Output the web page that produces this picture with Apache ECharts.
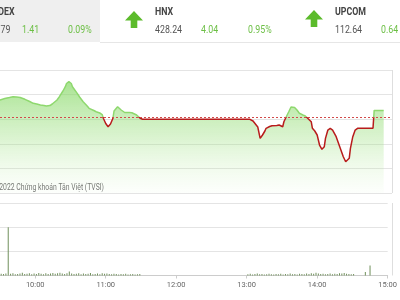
<!DOCTYPE html>
<html><head><meta charset="utf-8">
<script src="https://cdn.jsdelivr.net/npm/echarts@6/dist/echarts.min.js"></script>
<style>html,body{margin:0;padding:0;background:#fff;overflow:hidden}#c{width:400px;height:300px}</style>
</head><body><div id="c"></div>
<script>
// ---- data ----
const xTickLabels = ['10:00','11:00','12:00','13:00','14:00','15:00'];
const xStart = '9:30';
const refPrice = 1570.38;
const priceData = [
['9:15',1573.1],['9:20',1573.5],['9:25',1573.8],['9:30',1573.9],['9:34',1574.21],['9:38',1574.4],
['9:41',1574.57],['9:44',1574.5],['9:47',1574.41],['9:51',1574.04],['9:55',1573.6],['9:58',1573.23],
['10:01',1573.09],['10:04',1572.88],['10:07',1572.78],['10:09',1572.68],['10:12',1572.78],['10:14',1573.09],
['10:18',1573.9],['10:20',1574.57],['10:23',1575.73],['10:25',1576.6],['10:26',1577.26],['10:28',1577.62],
['10:30',1577.26],['10:31',1576.6],['10:35',1575.26],['10:37',1574.51],['10:40',1573.56],['10:43',1572.78],
['10:45',1572.21],['10:49',1571.76],['10:51',1571.52],['10:54',1571.26],['10:56',1570.95],['10:57',1570.2],
['10:59',1569.12],['11:01',1568.47],['11:03',1569.02],['11:05',1570.14],['11:06',1571.66],['11:09',1572.54],
['11:10',1572.27],['11:12',1571.87],['11:15',1571.36],['11:16',1571.2],['11:19',1571.36],['11:21',1571.32],
['11:25',1570.85],['11:28',1570.18],['11:29',1570.0],['11:30',1570.0],
['13:00',1570.0],['13:03',1569.63],['13:05',1569.02],['13:07',1568.41],['13:09',1566.11],['13:11',1566.79],
['13:13',1567.6],['13:14',1568.15],['13:17',1568.51],['13:19',1568.68],['13:23',1568.72],['13:25',1568.82],
['13:26',1569.16],['13:28',1568.47],['13:29',1569.49],['13:31',1570.5],['13:33',1571.46],['13:35',1572.48],
['13:36',1572.88],['13:38',1572.38],['13:40',1571.87],['13:42',1571.2],['13:45',1570.85],['13:47',1570.65],
['13:49',1570.18],['13:52',1569.49],['13:53',1568.15],['13:55',1567.6],['13:57',1566.79],['13:59',1564.75],
['14:01',1563.88],['14:03',1564.41],['14:04',1566.11],['14:06',1567.8],['14:08',1568.15],['14:10',1567.8],
['14:13',1566.44],['14:16',1564.41],['14:19',1562.37],['14:21',1561.36],['14:22',1561.03],['14:24',1562.05],
['14:25',1564.08],['14:27',1566.44],['14:29',1567.8],['14:31',1568.15],['14:44',1568.15],['14:45',1571.79],
['14:53',1571.79]
];
const volumeData = [
['9:31',0.7],['9:33',0.6],['9:35',0.8],['9:37',20],['9:39',0.7],['9:41',0.9],['9:43',0.5],['9:45',0.6],
['9:47',0.8],['9:49',1.1],['9:51',0.6],['9:53',0.7],['9:55',0.9],['9:57',0.5],['9:59',0.8],['10:01',0.6],
['10:03',1.0],['10:05',0.7],['10:07',0.5],['10:09',0.9],['10:11',0.6],['10:13',0.8],['10:15',1.0],['10:17',0.7],
['10:19',0.9],['10:21',1.1],['10:23',0.8],['10:25',0.6],['10:27',0.9],['10:29',1.7],['10:31',0.8],['10:33',0.6],
['10:35',0.7],['10:37',0.9],['10:39',0.5],['10:41',0.8],['10:43',0.6],['10:45',0.7],['10:47',1.0],['10:49',0.5],
['10:51',0.6],['10:53',0.8],['10:55',0.5],['10:57',0.9],['10:59',0.7],['11:01',0.8],['11:03',0.6],['11:05',0.5],
['11:07',0.7],['11:09',0.6],['11:11',0.4],['11:13',0.6],['11:15',0.5],['11:17',0.7],['11:19',0.4],['11:21',0.5],
['11:23',0.6],['11:25',0.4],['11:27',0.5],['11:29',0.6],
['13:01',0.5],['13:03',0.7],['13:05',0.4],['13:07',0.6],['13:09',0.8],['13:11',0.5],['13:13',0.6],['13:15',0.4],
['13:17',0.5],['13:19',0.7],['13:21',0.5],['13:23',0.4],['13:25',0.6],['13:27',0.5],['13:29',0.7],['13:31',0.4],
['13:33',0.6],['13:35',0.5],['13:37',0.8],['13:39',0.5],['13:41',0.6],['13:43',0.4],['13:45',0.7],['13:47',0.6],
['13:49',0.5],['13:51',0.8],['13:53',0.6],['13:55',0.9],['13:57',0.7],['13:59',1.1],['14:01',0.8],['14:03',0.6],
['14:05',0.7],['14:07',0.5],['14:09',0.6],['14:11',0.8],['14:13',0.5],['14:15',0.7],['14:17',0.6],['14:19',0.9],
['14:21',0.8],['14:23',1.0],['14:25',0.7],['14:27',0.6],['14:29',0.5],['14:31',0.6],['14:41',1.4],['14:45',4.1]
];
const indexNames = ['VNINDEX','HNX','UPCOM'];
const indexValues = ['1,571.79','428.24','112.64'];
const indexChanges = ['1.41','4.04','0.64'];
const indexPercents = ['0.09%','0.95%','0.64%'];
const copyright = '© 2022 Chứng khoán Tân Việt (TVSI)';

// ---- layout ----
const GRID_RIGHT = 8, TOP1 = 70, H1 = 123, TOP2 = 203, H2 = 72.5;
const FONT = 'Roboto';
const GREEN = '#6cbf45';

// ---- helpers ----
const toMin = s => { const p = s.split(':').map(Number); return p[0]*60 + p[1]; };
const fmt = v => { const h = Math.floor(v/60), m = v%60; return h + ':' + (m<10?'0':'') + m; };
const tickMins = xTickLabels.map(toMin);

const chart = echarts.init(document.getElementById('c'), null, {renderer:'canvas'});

const arrow = (x, y) => ({
  type:'polygon', shape:{points:[[x+9,y],[x+18,y+9.5],[x+12.3,y+9.5],[x+12.3,y+17],[x+5.7,y+17],[x+5.7,y+9.5],[x,y+9.5]]},
  style:{fill:'#5cbb2c'}
});
const txt = (x, y, text, opt, sx) => ({
  type:'text', x:x, y:y, scaleX: sx || 0.88, originX:0, originY:0,
  style:Object.assign({text:text, fontFamily:FONT, fontSize:10, fill:'#555', verticalAlign:'middle'}, opt||{})
});
const rx = 400 - GRID_RIGHT + 0.5;

const graphic = [
  {type:'rect', shape:{x:0,y:0,width:100,height:42}, style:{fill:'#efefef'}},
  {type:'line', shape:{x1:100,y1:42.5,x2:400,y2:42.5}, style:{stroke:'#e6e6e6', lineWidth:1}},
  {type:'line', shape:{x1:rx,y1:TOP1,x2:rx,y2:TOP1+H1}, style:{stroke:'#dedede', lineWidth:1}},
  {type:'line', shape:{x1:rx,y1:TOP2,x2:rx,y2:TOP2+H2}, style:{stroke:'#dedede', lineWidth:1}},
  txt(14.5, 12, indexNames[0], {align:'right', fontWeight:'bold', fill:'#444'}),
  txt(10.5, 30, indexValues[0], {align:'right'}),
  txt(22, 30, indexChanges[0], {fill:GREEN}),
  txt(68, 30, indexPercents[0], {fill:GREEN}),
  arrow(125, 11),
  txt(155, 12, indexNames[1], {fontWeight:'bold', fill:'#444'}),
  txt(155, 30, indexValues[1]),
  txt(201, 30, indexChanges[1], {fill:GREEN}),
  txt(248, 30, indexPercents[1], {fill:GREEN}),
  arrow(305, 10),
  txt(335, 12, indexNames[2], {fontWeight:'bold', fill:'#444'}),
  txt(335, 30, indexValues[2]),
  txt(381, 30, indexChanges[2], {fill:GREEN}),
  txt(104, 187.5, copyright, {align:'right', fontSize:9, fill:'#707070'}, 0.76)
];

const option = {
  animation:false,
  textStyle:{fontFamily:FONT},
  graphic: graphic,
  grid:[
    {left:0, right:GRID_RIGHT, top:TOP1, height:H1, show:false},
    {left:0, right:GRID_RIGHT, top:TOP2, height:H2, show:false}
  ],
  xAxis:[
    {type:'value', gridIndex:0, min:toMin(xStart), max:tickMins[tickMins.length-1], show:false},
    {type:'value', gridIndex:1, min:toMin(xStart), max:tickMins[tickMins.length-1],
     axisLine:{lineStyle:{color:'#cccccc'}},
     axisTick:{show:true, length:3, lineStyle:{color:'#cccccc'}, customValues:tickMins},
     splitLine:{show:false},
     axisLabel:{customValues:tickMins, formatter:v=>fmt(v), color:'#666', fontSize:7.5, margin:6}}
  ],
  yAxis:[
    {type:'value', gridIndex:0, min:1555, max:1580, interval:5, axisLabel:{show:false}, axisLine:{show:false}, axisTick:{show:false},
     splitLine:{lineStyle:{color:'#e4e4e4'}}},
    {type:'value', gridIndex:1, min:0, max:30, interval:10, axisLabel:{show:false}, axisLine:{show:false}, axisTick:{show:false},
     splitLine:{lineStyle:{color:'#e4e4e4'}}}
  ],
  visualMap:{type:'piecewise', show:false, seriesIndex:0, dimension:1,
    pieces:[{gt:refPrice, lte:1700, color:'#8ed86e'},{gte:1400, lte:refPrice, color:'#b81c1c'}]},
  series:[
    {type:'line', xAxisIndex:0, yAxisIndex:0, showSymbol:false, symbol:'none',
     data: priceData.map(d=>[toMin(d[0]), d[1]]),
     lineStyle:{width:1.5},
     areaStyle:{color:new echarts.graphic.LinearGradient(0,0,0,1,[
       {offset:0, color:'rgba(125,213,90,0.95)'},
       {offset:0.5, color:'rgba(150,222,120,0.5)'},
       {offset:1, color:'rgba(200,240,180,0.06)'}])},
     markLine:{silent:true, symbol:'none', label:{show:false},
       lineStyle:{color:'#d24a4a', type:[2,2], width:1}, data:[{yAxis:refPrice}]}
    },
    {type:'bar', xAxisIndex:1, yAxisIndex:1, barWidth:1,
     data: volumeData.map(d=>[toMin(d[0]), d[1]]),
     itemStyle:{color:'#6f8f5a'}}
  ]
};
chart.setOption(option);
</script></body></html>
